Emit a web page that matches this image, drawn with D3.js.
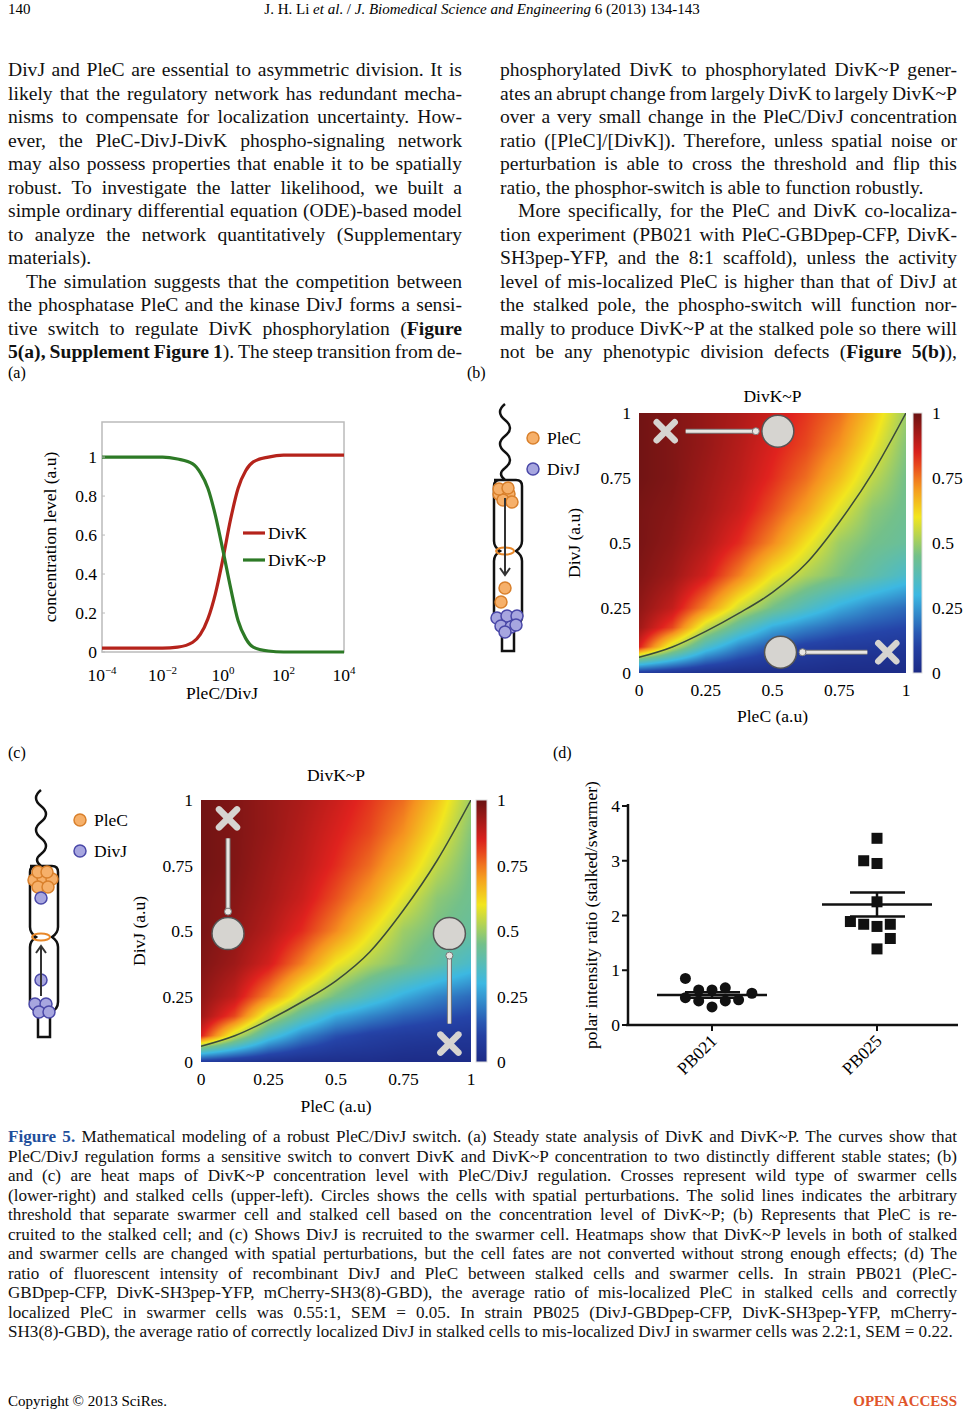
<!DOCTYPE html>
<html><head><meta charset="utf-8">
<script src="https://cdn.jsdelivr.net/npm/d3@7"></script>
<style>body{margin:0;background:#fff}svg{display:block;font-family:"Liberation Serif","Times New Roman",serif}</style>
</head><body>
<svg id="s" width="965" height="1414"></svg>
<script>
// ---------- data ----------
const logX = [-4,-3,-2,-1.5,-1,-0.75,-0.5,-0.25,0,0.25,0.5,0.75,1,1.5,2,3,4];
const divK = [0.02,0.02,0.02,0.025,0.05,0.09,0.17,0.3,0.48,0.68,0.84,0.93,0.975,1.0,1.01,1.01,1.01];
const divKP = [1.0,1.0,1.0,0.99,0.965,0.92,0.84,0.7,0.52,0.33,0.16,0.07,0.025,0.005,0,0,0];
const logTicks = [-4,-2,0,2,4];
const yTicksA = [0,0.2,0.4,0.6,0.8,1];
const heatX = [0,0.125,0.25,0.375,0.5,0.625,0.75,0.875,1];
const heatY = [1,0.875,0.75,0.625,0.5,0.375,0.25,0.175,0.1,0.06,0];
// rows follow heatY (DivJ), columns follow heatX (PleC)
const heat = [
 [.99,.97,.94,.91,.87,.82,.76,.65,.50],
 [.99,.97,.94,.90,.85,.80,.72,.60,.47],
 [.99,.97,.93,.89,.83,.76,.66,.54,.45],
 [.98,.96,.92,.87,.79,.70,.58,.48,.44],
 [.98,.95,.90,.83,.73,.61,.50,.45,.42],
 [.97,.93,.86,.74,.60,.52,.46,.40,.34],
 [.95,.88,.73,.56,.45,.36,.28,.22,.18],
 [.93,.80,.55,.40,.28,.22,.17,.14,.12],
 [.85,.55,.35,.22,.14,.10,.08,.07,.06],
 [.50,.36,.22,.14,.09,.07,.05,.04,.04],
 [.08,.05,.03,.02,.02,.02,.01,.01,.01]];
const threshX = [0,0.125,0.25,0.375,0.5,0.625,0.75,0.875,1];
const threshY = [0.06,0.1,0.16,0.23,0.31,0.42,0.58,0.77,1.0];
const heatTicks = [0,0.25,0.5,0.75,1];
const strains = ["PB021","PB025"];
const pb021 = [0.85,0.50,0.64,0.44,0.64,0.33,0.68,0.44,0.46,0.58];
const pb021slot = [-2,-2,-1,-1,0,0,1,1,2,3];
const pb025 = [3.41,3.0,2.95,2.25,1.89,1.84,1.8,1.84,1.58,1.39];
const pb025slot = [0,-1,0,0,-2,-1,0,1,1,0];
const means = [0.55,2.2], sems = [0.05,0.22];
const yTicksD = [0,1,2,3,4];

const svg = d3.select("#s");
const FS = 17.5;

// ---------- header & text ----------
svg.append("text").attr("x",8).attr("y",14).attr("font-size",15).text("140");
svg.append("text").attr("x",482).attr("y",14).attr("font-size",15).attr("text-anchor","middle")
  .html('J. H. Li <tspan font-style="italic">et al</tspan>. / <tspan font-style="italic">J. Biomedical Science and Engineering</tspan> 6 (2013) 134-143');

function para(lines, x0, w, size, lh, y0){
  lines.forEach((l,i)=>{
    const t = svg.append("text").attr("x",x0+(l.ind||0)).attr("y",y0+i*lh).attr("font-size",size).attr("fill",l.fill||"#111");
    t.html(l.t);
    const node=t.node(), len=node.getComputedTextLength(), target=w-(l.ind||0);
    if(l.j!==false){
      const sp=(node.textContent.match(/ /g)||[]).length;
      if(sp) t.attr("word-spacing",(target-len)/sp);
    } else if(len>target){ t.attr("textLength",target).attr("lengthAdjust","spacingAndGlyphs"); }
  });
}
const B = s=>'<tspan font-weight="bold">'+s+'</tspan>';
para([
 {t:"DivJ and PleC are essential to asymmetric division. It is"},
 {t:"likely that the regulatory network has redundant mecha-"},
 {t:"nisms to compensate for localization uncertainty. How-"},
 {t:"ever, the PleC-DivJ-DivK phospho-signaling network"},
 {t:"may also possess properties that enable it to be spatially"},
 {t:"robust. To investigate the latter likelihood, we built a"},
 {t:"simple ordinary differential equation (ODE)-based model"},
 {t:"to analyze the network quantitatively (Supplementary"},
 {t:"materials).",j:false},
 {t:"The simulation suggests that the competition between",ind:18},
 {t:"the phosphatase PleC and the kinase DivJ forms a sensi-"},
 {t:"tive switch to regulate DivK phosphorylation ("+B("Figure")},
 {t:B("5(a), Supplement Figure 1")+"). The steep transition from de-"}
],8,454,19.6,23.5,76);
para([
 {t:"phosphorylated DivK to phosphorylated DivK~P gener-"},
 {t:"ates an abrupt change from largely DivK to largely DivK~P"},
 {t:"over a very small change in the PleC/DivJ concentration"},
 {t:"ratio ([PleC]/[DivK]). Therefore, unless spatial noise or"},
 {t:"perturbation is able to cross the threshold and flip this"},
 {t:"ratio, the phosphor-switch is able to function robustly.",j:false},
 {t:"More specifically, for the PleC and DivK co-localiza-",ind:18},
 {t:"tion experiment (PB021 with PleC-GBDpep-CFP, DivK-"},
 {t:"SH3pep-YFP, and the 8:1 scaffold), unless the activity"},
 {t:"level of mis-localized PleC is higher than that of DivJ at"},
 {t:"the stalked pole, the phospho-switch will function nor-"},
 {t:"mally to produce DivK~P at the stalked pole so there will"},
 {t:"not be any phenotypic division defects ("+B("Figure 5(b)")+"),"}
],500,457,19.6,23.5,76);

// caption
para([
 {t:'<tspan font-weight="bold" fill="#1f4f9c">Figure 5.</tspan> Mathematical modeling of a robust PleC/DivJ switch. (a) Steady state analysis of DivK and DivK~P. The curves show that'},
 {t:"PleC/DivJ regulation forms a sensitive switch to convert DivK and DivK~P concentration to two distinctly different stable states; (b)"},
 {t:"and (c) are heat maps of DivK~P concentration level with PleC/DivJ regulation. Crosses represent wild type of swarmer cells"},
 {t:"(lower-right) and stalked cells (upper-left). Circles shows the cells with spatial perturbations. The solid lines indicates the arbitrary"},
 {t:"threshold that separate swarmer cell and stalked cell based on the concentration level of DivK~P; (b) Represents that PleC is re-"},
 {t:"cruited to the stalked cell; and (c) Shows DivJ is recruited to the swarmer cell. Heatmaps show that DivK~P levels in both of stalked"},
 {t:"and swarmer cells are changed with spatial perturbations, but the cell fates are not converted without strong enough effects; (d) The"},
 {t:"ratio of fluorescent intensity of recombinant DivJ and PleC between stalked cells and swarmer cells. In strain PB021 (PleC-"},
 {t:"GBDpep-CFP, DivK-SH3pep-YFP, mCherry-SH3(8)-GBD), the average ratio of mis-localized PleC in stalked cells and correctly"},
 {t:"localized PleC in swarmer cells was 0.55:1, SEM = 0.05. In strain PB025 (DivJ-GBDpep-CFP, DivK-SH3pep-YFP, mCherry-"},
 {t:"SH3(8)-GBD), the average ratio of correctly localized DivJ in stalked cells to mis-localized DivJ in swarmer cells was 2.2:1, SEM = 0.22.",j:false}
],8,949,17.1,19.5,1142);

svg.append("text").attr("x",8).attr("y",1406).attr("font-size",15).text("Copyright © 2013 SciRes.");
svg.append("text").attr("x",957).attr("y",1406).attr("font-size",15).attr("text-anchor","end").attr("font-weight","bold").attr("fill","#e0552a").text("OPEN ACCESS");

// panel labels
[["(a)",8,378],["(b)",467,378],["(c)",8,758],["(d)",553,758]].forEach(p=>svg.append("text").attr("x",p[1]).attr("y",p[2]).attr("font-size",16).text(p[0]));

// ---------- panel (a) ----------
{
 const x = d3.scaleLinear().domain([-4,4]).range([102,344]);
 const y = d3.scaleLinear().domain([0,1.18]).range([652,422]);
 const g = svg.append("g");
 g.append("rect").attr("x",102).attr("y",422).attr("width",242).attr("height",230).attr("fill","#fff").attr("stroke","#bbb").attr("stroke-width",1.5);
 const line = d3.line().curve(d3.curveMonotoneX);
 g.append("path").attr("d",line(logX.map((v,i)=>[x(v),y(divK[i])]))).attr("fill","none").attr("stroke","#b5231b").attr("stroke-width",3.2);
 g.append("path").attr("d",line(logX.map((v,i)=>[x(v),y(divKP[i])]))).attr("fill","none").attr("stroke","#2d7a26").attr("stroke-width",3.2);
 yTicksA.forEach(t=>{g.append("text").attr("x",97).attr("y",y(t)+6).attr("text-anchor","end").attr("font-size",FS).text(t);
   g.append("line").attr("x1",102).attr("x2",105).attr("y1",y(t)).attr("y2",y(t)).attr("stroke","#bbb");});
 logTicks.forEach(t=>{const tx=g.append("text").attr("x",x(t)).attr("y",681).attr("text-anchor","middle").attr("font-size",FS);
   tx.append("tspan").text("10"); tx.append("tspan").attr("dy",-7).attr("font-size",11).text(t<0?"−"+(-t):t);});
 g.append("text").attr("x",222).attr("y",699).attr("text-anchor","middle").attr("font-size",FS).text("PleC/DivJ");
 g.append("text").attr("transform","translate(56,537) rotate(-90)").attr("text-anchor","middle").attr("font-size",FS).text("concentration level (a.u)");
 [["DivK","#b5231b",533],["DivK~P","#2d7a26",560]].forEach(l=>{
   g.append("line").attr("x1",243).attr("x2",265).attr("y1",l[2]).attr("y2",l[2]).attr("stroke",l[1]).attr("stroke-width",3.2);
   g.append("text").attr("x",268).attr("y",l[2]+6).attr("font-size",FS).text(l[0]);});
}

// ---------- heatmap helper ----------
const cmap = d3.scaleLinear().domain([0,0.12,0.3,0.45,0.6,0.72,0.84,1])
  .range(["#1c2a85","#2544a8","#3cb8e2","#73c08a","#f2e61e","#f5921f","#e0221e","#6a1313"]).clamp(true);
function lookup(px,py){
  const yAsc = heatY.slice().reverse();
  let r = d3.bisectRight(yAsc,py)-1; r=Math.max(0,Math.min(yAsc.length-2,r));
  let c = d3.bisectRight(heatX,px)-1; c=Math.max(0,Math.min(heatX.length-2,c));
  const ty=(py-yAsc[r])/(yAsc[r+1]-yAsc[r]), tx=(px-heatX[c])/(heatX[c+1]-heatX[c]);
  const R=i=>heat[heatY.length-1-i];
  const v00=R(r)[c],v01=R(r)[c+1],v10=R(r+1)[c],v11=R(r+1)[c+1];
  return (v00*(1-tx)+v01*tx)*(1-ty)+(v10*(1-tx)+v11*tx)*ty;
}
let clipN=0;
function heatPanel(x0,x1,y0,y1,cb0,cb1,titleY,yLabX,xLabY,marks){
 const x = d3.scaleLinear().domain([0,1]).range([x0,x1]);
 const y = d3.scaleLinear().domain([0,1]).range([y1,y0]);
 const W=Math.round(x1-x0),H=Math.round(y1-y0);
 const cv = document.createElement("canvas"); cv.width=W; cv.height=H;
 const ctx = cv.getContext("2d"); const im = ctx.createImageData(W,H);
 for(let j=0;j<H;j++)for(let i=0;i<W;i++){
   const col=d3.rgb(cmap(lookup(x.invert(x0+i+0.5),y.invert(y0+j+0.5)))); const k=(j*W+i)*4;
   im.data[k]=col.r;im.data[k+1]=col.g;im.data[k+2]=col.b;im.data[k+3]=255;}
 ctx.putImageData(im,0,0);
 const id="clip"+(clipN++);
 svg.append("clipPath").attr("id",id).append("rect").attr("x",x0).attr("y",y0).attr("width",x1-x0).attr("height",y1-y0);
 svg.append("image").attr("href",cv.toDataURL()).attr("x",x0).attr("y",y0).attr("width",x1-x0).attr("height",y1-y0).attr("preserveAspectRatio","none");
 svg.append("path").attr("d",d3.line().curve(d3.curveMonotoneX)(threshX.map((v,i)=>[x(v),y(threshY[i])])))
   .attr("fill","none").attr("stroke","#3a4a3a").attr("stroke-width",1.5).attr("clip-path",`url(#${id})`);
 const gid="grad"+id;
 const gr=svg.append("defs").append("linearGradient").attr("id",gid).attr("x1",0).attr("x2",0).attr("y1",1).attr("y2",0);
 d3.range(0,1.001,0.05).forEach(t=>gr.append("stop").attr("offset",t).attr("stop-color",cmap(t)));
 svg.append("rect").attr("x",cb0).attr("y",y0).attr("width",cb1-cb0).attr("height",y1-y0).attr("fill",`url(#${gid})`).attr("stroke","#ddd");
 heatTicks.forEach(t=>{
   svg.append("text").attr("x",cb1+10).attr("y",y(t)+6).attr("font-size",FS).text(t);
   svg.append("text").attr("x",x0-8).attr("y",y(t)+6).attr("font-size",FS).attr("text-anchor","end").text(t);
   svg.append("text").attr("x",x(t)).attr("y",y1+23).attr("font-size",FS).attr("text-anchor","middle").text(t);
 });
 svg.append("text").attr("x",(x0+x1)/2).attr("y",titleY).attr("font-size",FS).attr("text-anchor","middle").text("DivK~P");
 svg.append("text").attr("x",(x0+x1)/2).attr("y",xLabY).attr("font-size",FS).attr("text-anchor","middle").text("PleC (a.u)");
 svg.append("text").attr("transform",`translate(${yLabX},${(y0+y1)/2}) rotate(-90)`).attr("font-size",FS).attr("text-anchor","middle").text("DivJ (a.u)");
 marks.forEach(m=>{
   const [cx,cy]=[x(m.cross[0]),y(m.cross[1])],[ox,oy]=[x(m.circ[0]),y(m.circ[1])];
   const dx=ox-cx,dy=oy-cy,L=Math.hypot(dx,dy),ux=dx/L,uy=dy/L;
   const ax0=cx+ux*20,ay0=cy+uy*20,ax1=ox-ux*22,ay1=oy-uy*22;
   svg.append("line").attr("x1",ax0).attr("y1",ay0).attr("x2",ax1).attr("y2",ay1).attr("stroke","#777").attr("stroke-width",5);
   svg.append("line").attr("x1",ax0).attr("y1",ay0).attr("x2",ax1).attr("y2",ay1).attr("stroke","#e8e6e2").attr("stroke-width",3);
   svg.append("circle").attr("cx",ax1).attr("cy",ay1).attr("r",3.5).attr("fill","#e8e6e2").attr("stroke","#777");
   svg.append("circle").attr("cx",ox).attr("cy",oy).attr("r",16).attr("fill","#d6d4d0").attr("stroke","#555").attr("stroke-width",1.5);
   [[-1,-1,1,1],[-1,1,1,-1]].forEach(s=>svg.append("line").attr("x1",cx+s[0]*9).attr("y1",cy+s[1]*9).attr("x2",cx+s[2]*9).attr("y2",cy+s[3]*9)
     .attr("stroke","#d6d4d0").attr("stroke-width",6.5).attr("stroke-linecap","round"));
 });
}
heatPanel(639,906,413,673,913,922,402,580,722,[{cross:[0.1,0.93],circ:[0.52,0.93]},{cross:[0.93,0.08],circ:[0.53,0.08]}]);
heatPanel(201,471,800,1062,476,487,781,145,1112,[{cross:[0.1,0.93],circ:[0.1,0.49]},{cross:[0.92,0.07],circ:[0.92,0.49]}]);

// ---------- cell diagrams ----------
function ball(cx,cy,col){
 const c = col==="o"?["#f6b06a","#d9802c"]:["#a7a6df","#4a48a8"];
 svg.append("circle").attr("cx",cx).attr("cy",cy).attr("r",6).attr("fill",c[0]).attr("stroke",c[1]).attr("stroke-width",1.5);
}
function cell(ox,oy,lx,ly,top,bottom,mid){
 svg.append("path").attr("d",`M${ox+14},${oy} q-10,8 0,16 q10,8 0,16 q-10,8 0,16 q10,8 0,16 q-8,6 0,12`).attr("fill","none").attr("stroke","#111").attr("stroke-width",2.5);
 const b=oy+76;
 svg.append("path").attr("d",`M${ox+3},${b} h22 q6,0 6,6 v55 q0,6 -6,10 q6,4 6,10 v55 q0,8 -8,10 v25 h-12 v-25 q-8,-2 -8,-10 v-55 q0,-6 6,-10 q-6,-4 -6,-10 v-55 q0,-6 6,-6z`)
   .attr("fill","#fff").attr("stroke","#111").attr("stroke-width",2.5);
 svg.append("ellipse").attr("cx",ox+14).attr("cy",b+71).attr("rx",9).attr("ry",3.5).attr("fill","none").attr("stroke","#e8882a").attr("stroke-width",2);
 top.forEach(p=>ball(ox+p[0],b+p[1],p[2]));
 bottom.forEach(p=>ball(ox+p[0],b+p[1],p[2]));
 const a=mid;
 svg.append("line").attr("x1",ox+14).attr("x2",ox+14).attr("y1",b+a[0]).attr("y2",b+a[1]).attr("stroke","#333").attr("stroke-width",2);
 const tip=b+a[1], dir=a[1]>a[0]?1:-1;
 svg.append("path").attr("d",`M${ox+9},${tip-dir*7} L${ox+14},${tip} L${ox+19},${tip-dir*7}`).attr("fill","none").attr("stroke","#333").attr("stroke-width",2);
 ball(lx,ly,"o"); ball(lx,ly+31,"b");
 svg.append("text").attr("x",lx+14).attr("y",ly+6).attr("font-size",FS).text("PleC");
 svg.append("text").attr("x",lx+14).attr("y",ly+37).attr("font-size",FS).text("DivJ");
}
cell(491,404,533,438,
 [[8,14,"o"],[18,14,"o"],[12,20,"o"],[21,22,"o"],[8,9,"o"],[17,8,"o"]],
 [[14,108,"o"],[10,122,"o"],[6,138,"b"],[16,136,"b"],[26,136,"b"],[10,146,"b"],[20,147,"b"],[14,152,"b"],[25,145,"b"]],[18,95]);
cell(27,790,80,820,
 [[7,14,"o"],[16,12,"o"],[25,13,"o"],[11,21,"o"],[21,21,"o"],[11,6,"o"],[20,6,"o"],[14,32,"b"]],
 [[14,114,"b"],[8,138,"b"],[19,138,"b"],[12,146,"b"],[22,146,"b"]],[130,80]);

// ---------- panel (d) ----------
{
 const y = d3.scaleLinear().domain([0,4]).range([1025,806]);
 const x = d3.scalePoint().domain(strains).range([712,877]);
 const g=svg.append("g").attr("stroke","#111");
 g.append("line").attr("x1",628).attr("x2",628).attr("y1",804).attr("y2",1025).attr("stroke-width",2.5);
 g.append("line").attr("x1",626).attr("x2",958).attr("y1",1025).attr("y2",1025).attr("stroke-width",2.5);
 yTicksD.forEach(t=>{g.append("line").attr("x1",622).attr("x2",628).attr("y1",y(t)).attr("y2",y(t)).attr("stroke-width",2);
   svg.append("text").attr("x",620).attr("y",y(t)+6).attr("font-size",FS).attr("text-anchor","end").text(t);});
 strains.forEach(s=>{g.append("line").attr("x1",x(s)).attr("x2",x(s)).attr("y1",1025).attr("y2",1031).attr("stroke-width",2);
   svg.append("text").attr("transform",`translate(${x(s)+6},${1042}) rotate(-45)`).attr("font-size",FS).attr("text-anchor","end").text(s);});
 svg.append("text").attr("transform","translate(597,915) rotate(-90)").attr("font-size",FS).attr("text-anchor","middle").text("polar intensity ratio (stalked/swarmer)");
 pb021.forEach((v,i)=>svg.append("circle").attr("cx",x("PB021")+pb021slot[i]*13.3).attr("cy",y(v)).attr("r",5.5).attr("fill","#111"));
 pb025.forEach((v,i)=>svg.append("rect").attr("x",x("PB025")+pb025slot[i]*13.3-5.5).attr("y",y(v)-5.5).attr("width",11).attr("height",11).attr("fill","#111"));
 strains.forEach((s,i)=>{const cx=x(s);
   g.append("line").attr("x1",cx-55).attr("x2",cx+55).attr("y1",y(means[i])).attr("y2",y(means[i])).attr("stroke-width",2.5);
   [means[i]-sems[i],means[i]+sems[i]].forEach(v=>g.append("line").attr("x1",cx-27).attr("x2",cx+28).attr("y1",y(v)).attr("y2",y(v)).attr("stroke-width",2.5));
   g.append("line").attr("x1",cx).attr("x2",cx).attr("y1",y(means[i]-sems[i])).attr("y2",y(means[i]+sems[i])).attr("stroke-width",2.5);});
}
</script>
</body></html>
